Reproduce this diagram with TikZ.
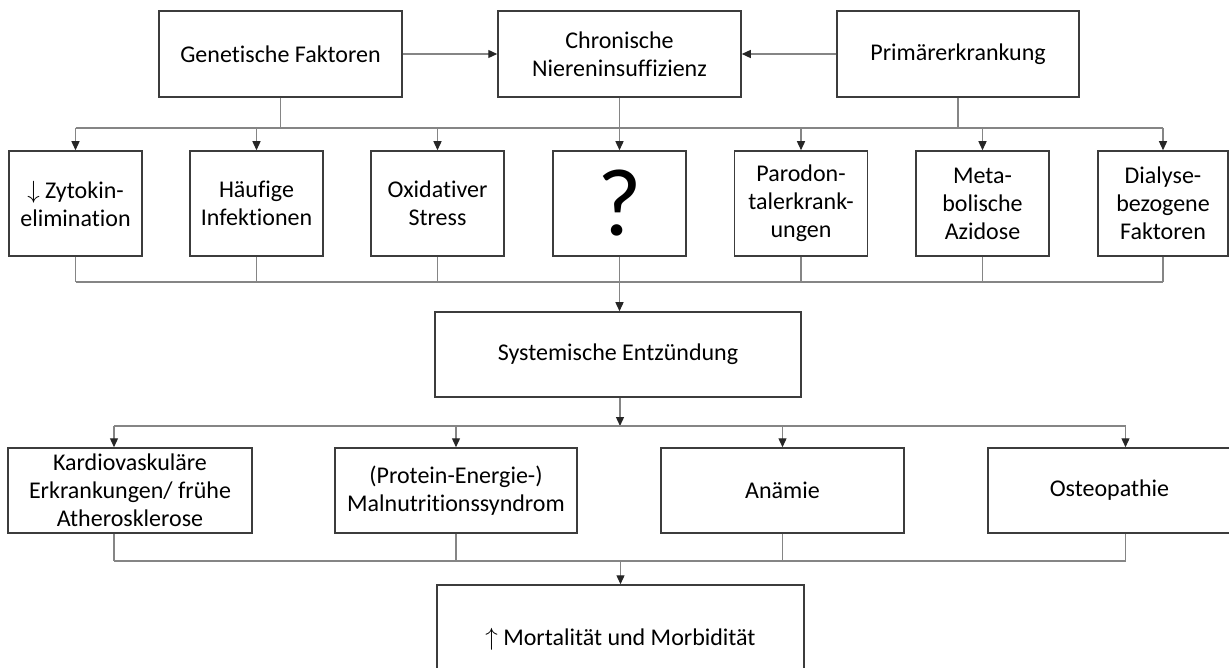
\documentclass[tikz,border=0pt]{standalone}
\usepackage{fontspec}
\setmainfont{Carlito}[Ligatures=NoCommon]
\usetikzlibrary{arrows.meta}
\definecolor{boxcol}{HTML}{3C3C3C}
\definecolor{linecol}{HTML}{858585}
\begin{document}
\begin{tikzpicture}[x=1pt,y=-1pt,
  box/.style={draw=boxcol, line width=1.5pt, align=center, inner sep=0pt,
    font=\fontsize{24}{28}\selectfont, text=black},
  conn/.style={draw=linecol, line width=1.3pt},
  arr/.style={conn, -{Triangle[length=9pt,width=8pt,color=black!85]}}]
\useasboundingbox (0,0) rectangle (1229,668);
\clip (0,0) rectangle (1229,668);
% row 1
\node[box, minimum width=243, minimum height=86] (gen) at (280.5,54) {Genetische Faktoren};
\node[box, minimum width=243, minimum height=86] (ckd) at (619.5,54) {Chronische\\Niereninsuffizienz};
\node[box, minimum width=242, minimum height=86] (prim) at (958,54) {Primärerkrankung};
% row 2
\node[box, minimum width=133, minimum height=105] (zyt) at (75.5,203.5) {$\downarrow$ Zytokin-\\elimination};
\node[box, minimum width=133, minimum height=105] (haeu) at (256.5,203.5) {Häufige\\Infektionen};
\node[box, minimum width=133, minimum height=105] (oxi) at (437.5,203.5) {Oxidativer\\Stress};
\node[box, minimum width=133, minimum height=105, font=\fontsize{96}{96}\selectfont] (q) at (619.5,203.5) {?};
\node[box, minimum width=133, minimum height=105] (paro) at (801,203.5) {Parodon-\\talerkrank-\\ungen};
\node[box, minimum width=133, minimum height=105] (meta) at (982.5,203.5) {Meta-\\bolische\\Azidose};
\node[box, minimum width=130, minimum height=105] (dial) at (1163,203.5) {Dialyse-\\bezogene\\Faktoren};
% middle
\node[box, minimum width=366, minimum height=85] (sys) at (618,354.5) {Systemische Entzündung};
% row 3
\node[box, minimum width=244, minimum height=85] (kard) at (130,490.5) {Kardiovaskuläre\\Erkrankungen/ frühe\\Atherosklerose};
\node[box, minimum width=242, minimum height=85] (maln) at (456,490.5) {(Protein-Energie-)\\Malnutritionssyndrom};
\node[box, minimum width=243, minimum height=85] (anae) at (782.5,490.5) {Anämie};
\node[box, minimum width=243, minimum height=85] (ost) at (1109.5,490.5) {Osteopathie};
% bottom
\node[box, minimum width=367, minimum height=108] (mort) at (620.5,639) {$\uparrow$ Mortalität und Morbidität};
% bus coordinates
\coordinate (b1) at (0,128);
\coordinate (b2) at (0,282);
\coordinate (b3) at (0,426);
\coordinate (b4) at (0,561);
\coordinate (kx) at ([xshift=-16pt]kard.north);
\coordinate (ox) at ([xshift=16pt]ost.north);
% top arrows
\draw[arr] (gen) -- (ckd);
\draw[arr] (prim) -- (ckd);
% bus 1
\draw[conn] (gen.south) -- (gen.south |- b1);
\draw[conn] (prim.south) -- (prim.south |- b1);
\draw[conn] (zyt.north |- b1) -- (dial.north |- b1);
\foreach \n in {zyt,haeu,oxi,paro,meta,dial}
  \draw[arr] (\n.north |- b1) -- (\n.north);
\draw[arr] (ckd.south) -- (q.north);
% bus 2
\foreach \n in {zyt,haeu,oxi,paro,meta,dial}
  \draw[conn] (\n.south) -- (\n.south |- b2);
\draw[conn] (zyt.south |- b2) -- (dial.south |- b2);
\draw[arr] (q.south) -- (q.south |- sys.north);
% bus 3
\draw[arr] ([xshift=2pt]sys.south) -- ([xshift=2pt]sys.south |- b3);
\draw[conn] (kx |- b3) -- (ox |- b3);
\draw[arr] (kx |- b3) -- (kx);
\draw[arr] (ox |- b3) -- (ox);
\draw[arr] (maln.north |- b3) -- (maln.north);
\draw[arr] (anae.north |- b3) -- (anae.north);
% bus 4
\draw[conn] ([xshift=-16pt]kard.south) -- ([xshift=-16pt]kard.south |- b4);
\draw[conn] ([xshift=16pt]ost.south) -- ([xshift=16pt]ost.south |- b4);
\draw[conn] (maln.south) -- (maln.south |- b4);
\draw[conn] (anae.south) -- (anae.south |- b4);
\draw[conn] ([xshift=-16pt]kard.south |- b4) -- ([xshift=16pt]ost.south |- b4);
\draw[arr] (mort.north |- b4) -- (mort.north);
\end{tikzpicture}
\end{document}
